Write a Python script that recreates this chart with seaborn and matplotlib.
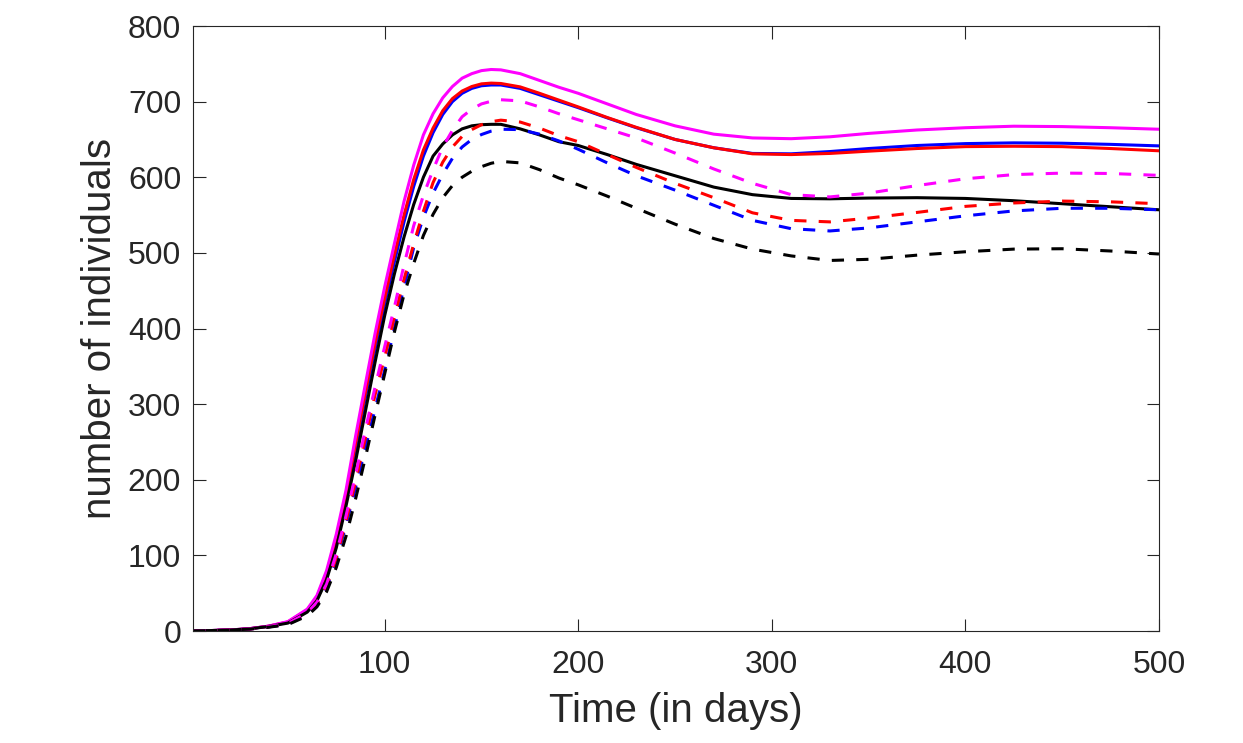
import numpy as np
import pandas as pd
import seaborn as sns
import matplotlib
matplotlib.use("Agg")
import matplotlib.pyplot as plt

# time grid (days)
time_days = [1, 10, 20, 30, 40, 50, 60, 65, 70, 75,
             80, 85, 90, 95, 100, 105, 110, 115, 120, 125,
             130, 135, 140, 145, 150, 155, 160, 170, 180, 190,
             200, 215, 230, 250, 270, 290, 310, 330, 350, 375,
             400, 425, 450, 475, 500]

# solid curves
solid_magenta = [0.3, 0.6, 1.4, 3, 6.5, 12.5, 29, 47, 80, 128,
                 186, 258, 326, 393, 455, 512, 568, 616, 656, 684,
                 705, 720, 731, 737, 741, 742.5, 742, 737, 728, 719,
                 711, 697, 683, 668, 657, 652, 651, 653.5, 658, 662.5,
                 665.5, 667.5, 667, 665.5, 663.5]
solid_red = [0.3, 0.6, 1.4, 3, 6.4, 12, 28, 45, 77, 123,
             180, 248, 315, 380, 440, 497, 550, 597, 636, 665,
             688, 704, 714, 720, 723.5, 724.5, 724, 719.5, 711, 702,
             693, 679, 666, 650, 639, 631, 630, 631.5, 634.5, 638,
             640.5, 641, 640.5, 638, 635]
solid_blue = [0.3, 0.6, 1.4, 3, 6.3, 11.5, 27, 44, 75, 119,
              175, 241, 308, 372, 432, 488, 541, 588, 628, 659,
              683, 700, 711, 717.5, 721, 722, 722, 717.5, 709, 700.5,
              692, 678.5, 665.5, 650, 639, 631.5, 631, 634, 638, 642,
              644.5, 645.5, 645, 643.5, 641.5]
solid_black = [0.3, 0.6, 1.3, 2.8, 6, 10.5, 25, 40, 68, 110,
               165, 225, 290, 355, 417, 472, 521, 564, 600, 628,
               644, 656, 664, 668, 669.5, 670, 670, 664, 656, 647,
               642, 630, 617, 602, 587, 577, 572, 571.5, 572.5, 573,
               572, 569, 565, 561, 557]

# dashed curves
dashed_magenta = [0.3, 0.6, 1.3, 2.7, 5.7, 10, 24, 38, 62, 102,
                  152, 207, 266, 322, 376, 428, 484, 536, 576, 610,
                  640, 662, 680, 690, 697, 700.5, 702.5, 701, 693, 684,
                  676, 664, 652, 632, 611, 592, 577, 574, 579, 589,
                  598, 603.5, 605.5, 605, 602.5]
dashed_red = [0.3, 0.6, 1.3, 2.6, 5.5, 9.5, 23, 36, 59, 97,
              145, 198, 255, 312, 362, 415, 465, 512, 555, 593,
              620, 640, 654, 663, 669.5, 673.5, 675.5, 673, 665, 655,
              647, 630, 613, 592, 573, 553, 543, 541, 546, 553.5,
              561.5, 566, 568.5, 567.5, 565]
dashed_blue = [0.3, 0.6, 1.3, 2.6, 5.4, 9, 22, 35, 57, 94,
               140, 190, 242, 293, 345, 400, 455, 507, 547, 579,
               604, 625, 640, 650, 656.5, 661, 663.5, 663, 657, 648,
               637, 619, 602, 583, 563, 543, 532, 529, 533, 541,
               549, 555.5, 559, 559, 557]
dashed_black = [0.3, 0.5, 1.2, 2.5, 5, 8.5, 20, 32, 52, 84,
                125, 175, 229, 285, 340, 395, 445, 486, 523, 551,
                573, 589, 600, 608, 614, 618.5, 621, 619, 610, 599,
                590, 575, 559, 538, 519, 505, 496, 490, 491.5, 497,
                501.5, 505, 505.5, 502.5, 498.5]

series = {
    "blue": solid_blue,
    "red": solid_red,
    "magenta": solid_magenta,
    "black": solid_black,
    "blue--": dashed_blue,
    "red--": dashed_red,
    "magenta--": dashed_magenta,
    "black--": dashed_black,
}

frames = []
for name, vals in series.items():
    frames.append(pd.DataFrame({"t": time_days, "n": vals, "curve": name}))
df = pd.concat(frames, ignore_index=True)

palette = {k: k.rstrip("-") for k in series}
dashes = {k: ((4, 4) if k.endswith("--") else "") for k in series}

sns.set_style("ticks")
plt.rcParams["font.family"] = ["Liberation Sans", "DejaVu Sans"]
plt.rcParams["axes.edgecolor"] = "#262626"
plt.rcParams["axes.linewidth"] = 0.8

fig = plt.figure(figsize=(12.43, 7.43), dpi=100)
ax = fig.add_axes([0.1553, 0.1507, 0.7771, 0.8143])

sns.lineplot(data=df, x="t", y="n", hue="curve", style="curve",
             palette=palette, dashes=dashes, linewidth=2.2,
             estimator=None, sort=False, legend=False, ax=ax)

ax.set_xlim(1, 500)
ax.set_ylim(0, 800)
ax.set_xticks([100, 200, 300, 400, 500])
ax.set_yticks(range(0, 801, 100))
ax.tick_params(direction="in", top=True, right=True, length=9, width=0.8,
               colors="#262626", labelsize=23)
ax.tick_params(axis="x", pad=14)
ax.tick_params(axis="y", pad=8.5)
ax.set_xlabel("Time (in days)", fontsize=29, color="#262626", labelpad=8)
ax.set_ylabel("number of individuals", fontsize=29, color="#262626", labelpad=6.5)

fig.savefig("out.png", dpi=100)
